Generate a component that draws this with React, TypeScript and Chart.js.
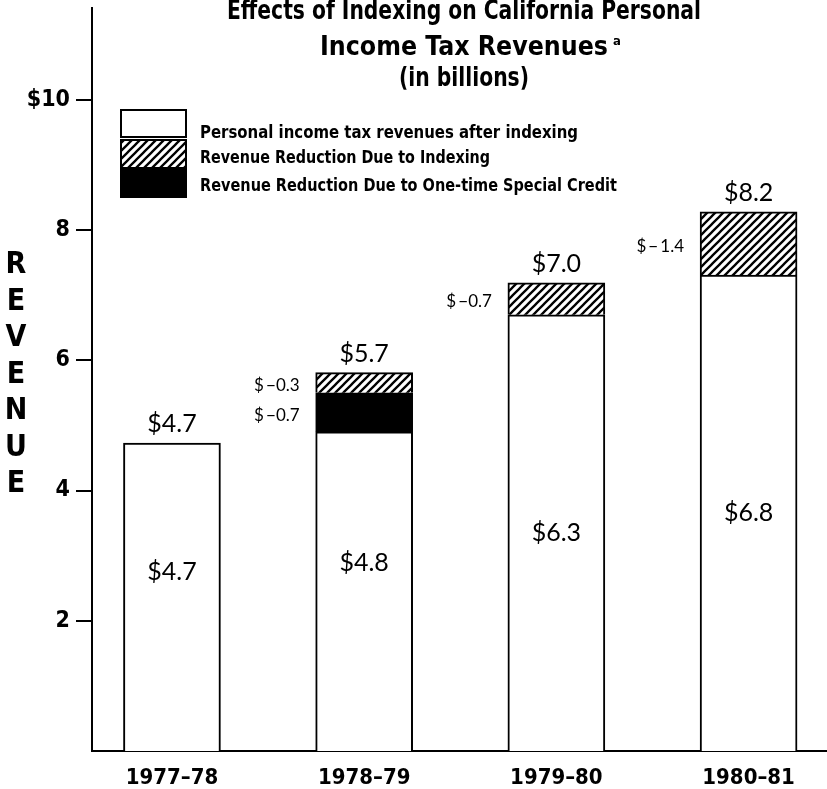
import React, { useEffect, useRef } from 'react';
import { Chart, registerables } from 'chart.js';

Chart.register(...registerables);

// ---------- data ----------
const categories = ['1977–78', '1978–79', '1979–80', '1980–81'];
const afterIndexing: (number | null)[] = [4.73, 4.9, 6.7, 7.31];
const specialCredit: (number | null)[] = [null, 0.6, null, null];
const indexingReduction: (number | null)[] = [null, 0.31, 0.49, 0.97];

const totalLabels = ['$4.7', '$5.7', '$7.0', '$8.2'];
const afterLabels = ['$4.7', '$4.8', '$6.3', '$6.8'];
const creditLabels: (string | null)[] = [null, '$\u2009−0.7', null, null];
const indexingLabels: (string | null)[] = [null, '$\u2009−0.3', '$\u2009−0.7', '$\u2009−\u20091.4'];

const yTickValues = [2, 4, 6, 8, 10];
const yMax = 11.41;
const legendLabels = [
  'Personal income tax revenues after indexing',
  'Revenue Reduction Due to Indexing',
  'Revenue Reduction Due to One-time Special Credit',
];
const titleLines = ['Effects of Indexing on California Personal', 'Income Tax Revenues', '(in billions)'];
const titleNote = 'a';
const axisTitle = 'REVENUE';

// ---------- styling ----------
const COND = "'DejaVu Sans Condensed', 'DejaVu Sans', sans-serif";
const VALUE_FONT = "Lato, 'Open Sans', sans-serif";
const innerFrac = [0.58, 0.59, 0.5, 0.5];
const titleWidths = [474, 288, 130];
const legendWidths = [378, 290, 417];

function makeHatch(): CanvasPattern | string {
  const c = document.createElement('canvas');
  c.width = 8;
  c.height = 8;
  const g = c.getContext('2d');
  if (!g) return '#888';
  g.fillStyle = '#fff';
  g.fillRect(0, 0, 8, 8);
  g.strokeStyle = '#000';
  g.lineWidth = 2.3;
  g.beginPath();
  g.moveTo(-1, 9);
  g.lineTo(9, -1);
  g.moveTo(-5, 5);
  g.lineTo(5, -5);
  g.moveTo(3, 13);
  g.lineTo(13, 3);
  g.stroke();
  return g.createPattern(c, 'repeat') || '#888';
}

function fitText(ctx: CanvasRenderingContext2D, text: string, x: number, y: number, target: number) {
  const w = ctx.measureText(text).width;
  const sx = w > 0 ? target / w : 1;
  ctx.save();
  ctx.translate(x, y);
  ctx.scale(sx, 1);
  ctx.fillText(text, 0, 0);
  ctx.restore();
  return w * sx;
}

export default function App() {
  const ref = useRef<HTMLCanvasElement | null>(null);

  useEffect(() => {
    const canvas = ref.current;
    if (!canvas) return;
    const hatch = makeHatch();

    const decor = {
      id: 'decor',
      afterDatasetsDraw(chart: any) {
        const ctx = chart.ctx as CanvasRenderingContext2D;
        const x = chart.scales.x;
        const y = chart.scales.y;
        ctx.save();
        ctx.fillStyle = '#000';
        categories.forEach((_, i) => {
          const cx = x.getPixelForValue(i);
          const half = 97 / 2;
          const base = afterIndexing[i] || 0;
          const credit = specialCredit[i] || 0;
          const idx = indexingReduction[i] || 0;
          const total = base + credit + idx;
          ctx.font = `25px ${VALUE_FONT}`;
          ctx.textAlign = 'center';
          ctx.textBaseline = 'middle';
          ctx.fillText(totalLabels[i], cx, y.getPixelForValue(total) - 19);
          ctx.fillText(afterLabels[i], cx, y.getPixelForValue(base * innerFrac[i]));
          ctx.font = `17px ${VALUE_FONT}`;
          ctx.textAlign = 'right';
          if (creditLabels[i]) {
            const ym = (y.getPixelForValue(base) + y.getPixelForValue(base + credit)) / 2;
            ctx.fillText(creditLabels[i] as string, cx - half - 16, ym + 3);
          }
          if (indexingLabels[i]) {
            const ym = (y.getPixelForValue(base + credit) + y.getPixelForValue(total)) / 2;
            ctx.fillText(indexingLabels[i] as string, cx - half - 16, ym + 3);
          }
        });
        ctx.restore();
      },
      afterDraw(chart: any) {
        const ctx = chart.ctx as CanvasRenderingContext2D;
        ctx.save();
        ctx.fillStyle = '#000';
        // title
        const tx = 464;
        ctx.font = `bold 27px ${COND}`;
        ctx.textAlign = 'center';
        ctx.textBaseline = 'alphabetic';
        const baselines = [19, 55, 86];
        titleLines.forEach((t, k) => {
          fitText(ctx, t, tx, baselines[k], titleWidths[k]);
        });
        ctx.font = `bold 13px ${COND}`;
        ctx.textAlign = 'left';
        ctx.fillText(titleNote, tx + titleWidths[1] / 2 + 5, baselines[1] - 10);

        // legend
        const lx = 121;
        const boxes = [
          { top: 110, h: 27, fill: '#fff' as any },
          { top: 140, h: 28, fill: hatch as any },
          { top: 168, h: 29, fill: '#000' as any },
        ];
        const textBase = [138, 163, 191];
        boxes.forEach((b, k) => {
          ctx.fillStyle = b.fill;
          ctx.fillRect(lx, b.top, 65, b.h);
          ctx.strokeStyle = '#000';
          ctx.lineWidth = 2;
          ctx.strokeRect(lx, b.top, 65, b.h);
          ctx.fillStyle = '#000';
          ctx.font = `bold 17.5px ${COND}`;
          ctx.textAlign = 'left';
          fitText(ctx, legendLabels[k], lx + 79, textBase[k], legendWidths[k]);
        });

        // vertical axis title
        ctx.font = `bold 30px ${COND}`;
        ctx.textAlign = 'center';
        ctx.textBaseline = 'middle';
        const mid = 375;
        const letters = axisTitle.split('');
        letters.forEach((ch, k) => {
          ctx.fillText(ch, 16, mid + (k - (letters.length - 1) / 2) * 36.5);
        });
        ctx.restore();
      },
    };

    const mk = (arr: (number | null)[]) => categories.map((_, i) => ({ x: i, y: arr[i] }));

    const chart = new Chart(canvas, {
      type: 'bar',
      data: {
        datasets: [
          {
            label: legendLabels[0],
            data: mk(afterIndexing) as any,
            backgroundColor: '#fff',
            borderColor: '#000',
            borderWidth: 2,
            barThickness: 97,
          },
          {
            label: legendLabels[2],
            data: mk(specialCredit) as any,
            backgroundColor: '#000',
            borderColor: '#000',
            borderWidth: 2,
            barThickness: 97,
          },
          {
            label: legendLabels[1],
            data: mk(indexingReduction) as any,
            backgroundColor: hatch as any,
            borderColor: '#000',
            borderWidth: 2,
            barThickness: 97,
          },
        ],
      },
      options: {
        responsive: false,
        animation: false,
        layout: { padding: 0 },
        plugins: { legend: { display: false }, title: { display: false }, tooltip: { enabled: false } },
        scales: {
          x: {
            type: 'linear',
            min: -0.416,
            max: 3.408,
            offset: false,
            stacked: true,
            grid: { display: false, drawTicks: false, offset: false },
            border: { color: '#000', width: 2 },
            afterBuildTicks: (s: any) => {
              s.ticks = categories.map((_, i) => ({ value: i }));
            },
            ticks: {
              autoSkip: false,
              maxRotation: 0,
              minRotation: 0,
              padding: 14,
              color: '#000',
              font: { family: COND, size: 22, weight: 'bold' },
              callback: (v: any) =>
                Number.isInteger(v) && v >= 0 && v < categories.length ? categories[v] : null,
            },
            afterFit: (s: any) => {
              s.height = 38;
              s.paddingLeft = 0;
              s.paddingRight = 0;
            },
          },
          y: {
            type: 'linear',
            min: 0,
            max: yMax,
            stacked: true,
            grid: {
              drawOnChartArea: false,
              drawTicks: true,
              tickLength: 16,
              lineWidth: 2,
              color: (c: any) => (c.tick && yTickValues.includes(c.tick.value) ? '#000' : 'rgba(0,0,0,0)'),
            },
            border: { color: '#000', width: 2 },
            afterBuildTicks: (s: any) => {
              s.ticks = [0, ...yTickValues, yMax].map((v) => ({ value: v }));
            },
            ticks: {
              padding: 6,
              color: '#000',
              font: { family: COND, size: 23, weight: 'bold' },
              callback: (v: any) => (yTickValues.includes(v) ? (v === 10 ? '$10' : String(v)) : null),
            },
            afterFit: (s: any) => {
              s.width = 92;
              s.paddingTop = 8;
              s.paddingBottom = 0;
            },
          },
        },
      } as any,
      plugins: [decor],
    });

    return () => chart.destroy();
  }, []);

  return (
    <div style={{ position: 'absolute', left: 0, top: 0, width: 827, height: 789, background: '#fff' }}>
      <canvas ref={ref} width={827} height={789} style={{ display: 'block', width: 827, height: 789 }} />
    </div>
  );
}
